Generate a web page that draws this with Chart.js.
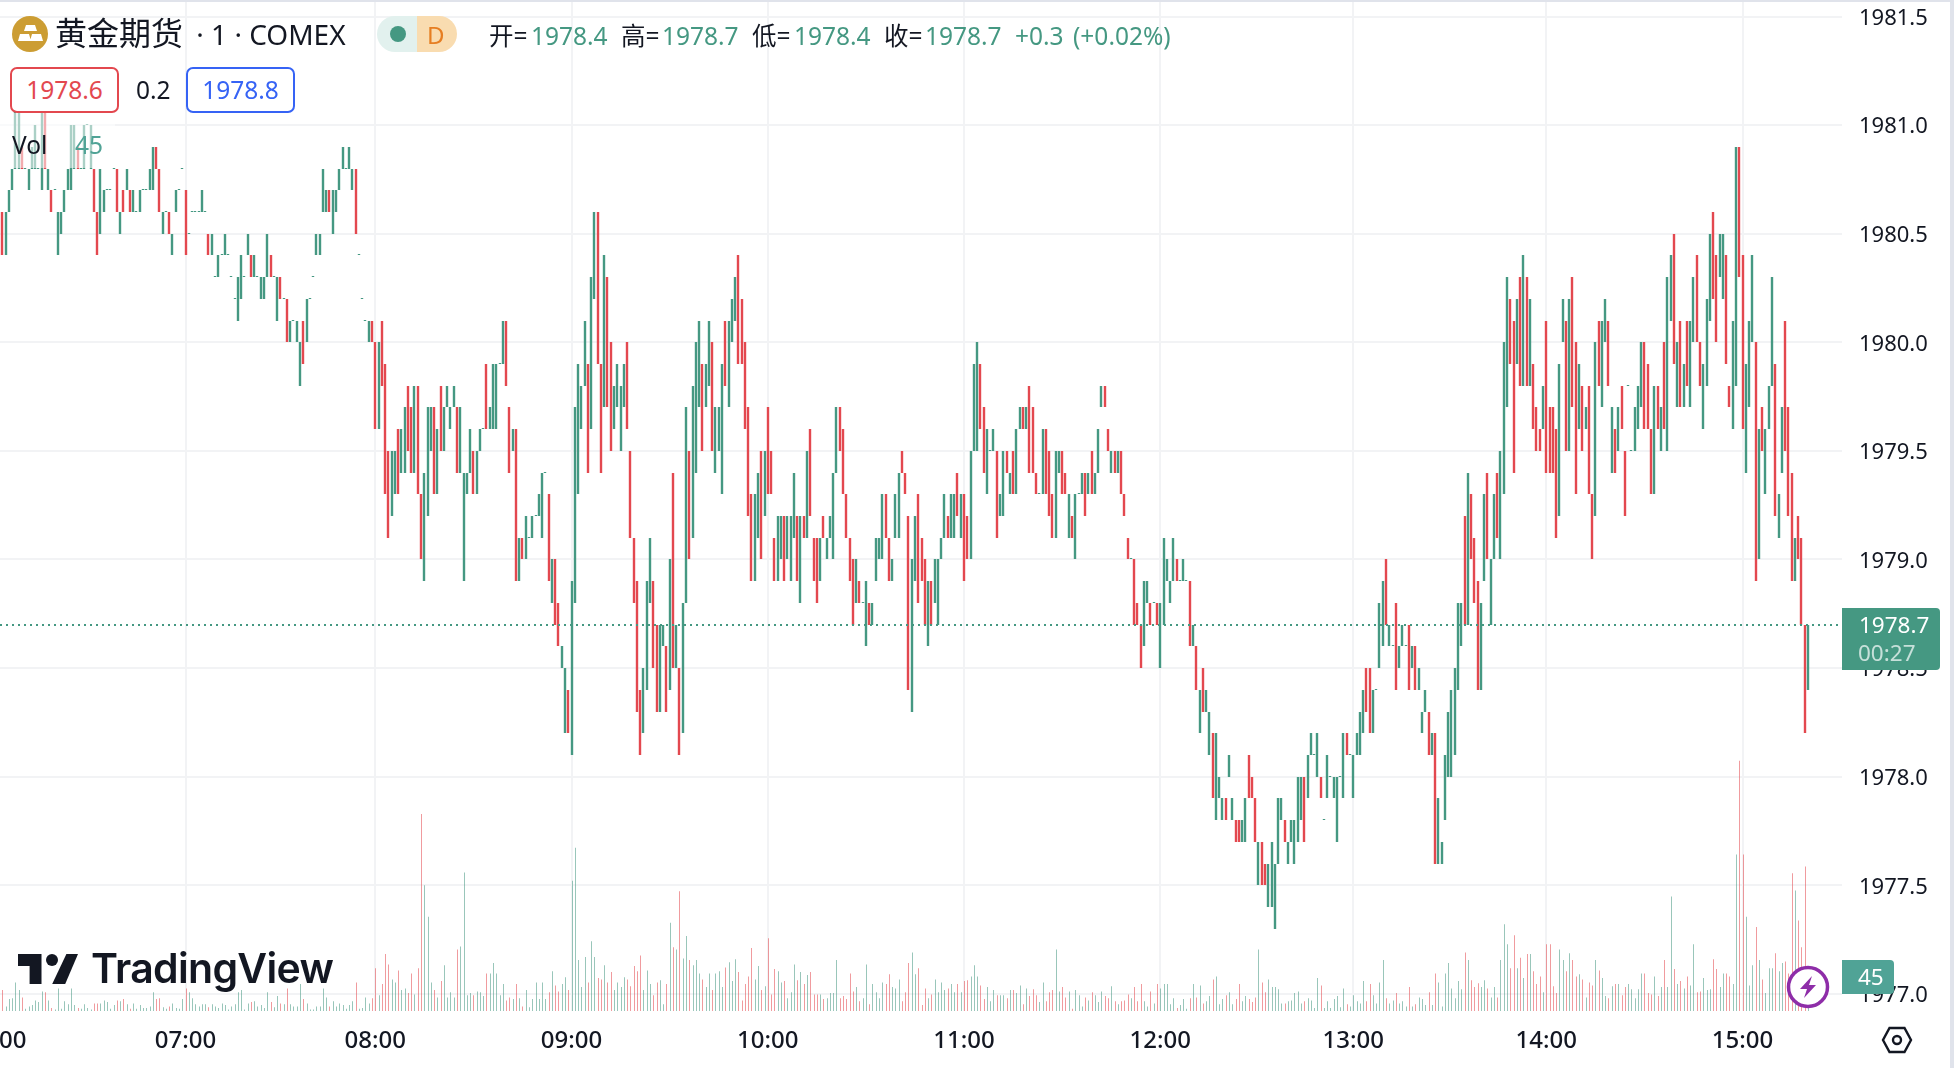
<!DOCTYPE html>
<html lang="zh">
<head>
  <meta charset="UTF-8" />
  <title>黄金期货 · 1 · COMEX</title>
  <script src="https://cdn.jsdelivr.net/npm/chart.js"></script>
  <style>
    html, body { margin: 0; padding: 0; background: #fff; overflow: hidden; }
    body { width: 1954px; height: 1068px; position: relative; font-family: "Noto Sans", "Noto Sans CJK SC", sans-serif; color: #131722; }
    canvas { position: absolute; left: 0; top: 0; }
    .abs { position: absolute; white-space: nowrap; line-height: 1; }
    .up { color: #459882; }
    .lg { font-size: 24.5px; top: 24px; }
    .box { position: absolute; top: 67px; height: 42px; width: 105px; border: 2px solid; border-radius: 7px; background: #fff; font-size: 24.5px; line-height: 42px; text-align: center; }
  </style>
</head>
<body>
  <canvas id="goldChart" width="1950" height="1068"></canvas>

  <div class="abs" style="left:0;top:0;width:1954px;height:2px;background:#e0e3eb"></div>
  <div class="abs" style="left:1950px;top:0;width:4px;height:1068px;background:#e0e3eb"></div>
  <div class="abs" style="left:0;top:113px;width:115px;height:55px;background:rgba(255,255,255,.55)"></div>

  <svg class="abs" style="left:12px;top:16px" width="37" height="37" viewBox="0 0 37 37">
    <circle cx="18" cy="18" r="18" fill="#cc9d33"/>
    <path d="M14 9h9l2 6H12zM8 18h9l2 7H6zM20 18h9l2 7H18z" fill="#fff"/>
  </svg>
  <div class="abs" style="left:55px;top:17px;font-size:32px">黄金期货<span style="font-size:28px;margin-left:6px"> · 1 · COMEX</span></div>

  <div class="abs" style="left:377px;top:16px;width:40px;height:36px;background:#e2f1ee;border-radius:18px 0 0 18px"></div>
  <div class="abs" style="left:417px;top:16px;width:40px;height:36px;background:#f9dcb0;border-radius:0 18px 18px 0"></div>
  <div class="abs" style="left:390px;top:26px;width:16px;height:16px;background:#459882;border-radius:50%"></div>
  <div class="abs" style="left:427px;top:23px;font-size:24px;color:#e67e22">D</div>

  <div class="abs lg" style="left:489px">开=</div><div class="abs lg up" style="left:531px">1978.4</div>
  <div class="abs lg" style="left:621px">高=</div><div class="abs lg up" style="left:662px">1978.7</div>
  <div class="abs lg" style="left:752px">低=</div><div class="abs lg up" style="left:794px">1978.4</div>
  <div class="abs lg" style="left:884px">收=</div><div class="abs lg up" style="left:925px">1978.7</div>
  <div class="abs lg up" style="left:1015px">+0.3</div><div class="abs lg up" style="left:1073px">(+0.02%)</div>

  <div class="box" style="left:10px;border-color:#e3484f;color:#e3484f">1978.6</div>
  <div class="abs" style="left:136px;top:78px;font-size:24.5px">0.2</div>
  <div class="box" style="left:186px;border-color:#3663f5;color:#3663f5">1978.8</div>

  <div class="abs" style="left:12px;top:133px;font-size:24.5px">Vol</div>
  <div class="abs" style="left:75px;top:133px;font-size:24.5px;color:#50a396">45</div>

  <svg class="abs" style="left:0;top:940px" width="340" height="60" viewBox="0 0 340 60">
    <path d="M18 14h23.5v30H29.6V26H18z" fill="#131722"/>
    <circle cx="52" cy="20" r="6" fill="#131722"/>
    <path d="M66.4 14H78L65.2 44H52.2z" fill="#131722"/>
  </svg>
  <div class="abs" style="left:91px;top:948px;font-family:Inter,sans-serif;font-weight:600;font-size:41px;letter-spacing:-.7px;color:#131722">TradingView</div>

  <div class="abs" style="left:1842px;top:608px;width:98px;height:62px;background:#459882;border-radius:0 4px 4px 0"></div>
  <div class="abs" style="left:1859px;top:614px;font-size:22.5px;color:#fff">1978.7</div>
  <div class="abs" style="left:1858px;top:642px;font-size:22.5px;color:rgba(255,255,255,.7)">00:27</div>
  <div class="abs" style="left:1842px;top:960px;width:52px;height:34px;background:#50a396;border-radius:0 4px 4px 0"></div>
  <div class="abs" style="left:1858px;top:966px;font-size:22.5px;color:#fff">45</div>

  <svg class="abs" style="left:1786px;top:965px" width="44" height="44" viewBox="0 0 44 44">
    <circle cx="22" cy="22" r="19.5" fill="#fff" stroke="#8e2da8" stroke-width="3.5"/>
    <path d="M26 11 14 24h7l-3 9 12-13h-7z" fill="#8e2da8"/>
  </svg>
  <svg class="abs" style="left:1880px;top:1025px" width="34" height="30" viewBox="0 0 34 30">
    <path d="M9.5 3h15L31 15l-6.500 12h-15L3 15z" fill="none" stroke="#131722" stroke-width="2.400"/>
    <circle cx="17" cy="15" r="4" fill="none" stroke="#131722" stroke-width="2.400"/>
  </svg>

  <script>
    // bar 2 is the first candle on screen, one entry per minute bar
    const firstBar = 2;

    const opens = [
      1980.6,1980.4,1980.6,1980.7,1980.8,1980.8,1980.9,1980.8,1980.7,1980.8,
      1980.8,1980.8,1980.7,1981.1,1980.7,1980.7,1980.7,1980.4,1980.5,1980.6,
      1980.7,1980.7,1980.8,1980.9,1980.8,1980.8,1981.0,1980.8,1980.8,1980.6,
      1980.5,1980.6,1980.7,1980.7,1980.8,1980.8,1980.5,1980.7,1980.7,1980.7,
      1980.6,1980.6,1980.6,1980.7,1980.7,1980.7,1980.7,1980.9,1980.8,1980.5,
      1980.6,1980.6,1980.4,1980.6,1980.7,1980.8,1980.7,1980.5,1980.6,1980.6,
      1980.6,1980.6,1980.6,1980.5,1980.4,1980.3,1980.3,1980.4,1980.4,1980.4,
      1980.3,1980.2,1980.1,1980.2,1980.3,1980.4,1980.4,1980.3,1980.3,1980.2,
      1980.2,1980.3,1980.4,1980.3,1980.1,1980.3,1980.2,1980.2,1980.0,1980.1,
      1980.0,1979.8,1980.1,1980.0,1980.2,1980.3,1980.4,1980.4,1980.6,1980.6,
      1980.7,1980.5,1980.6,1980.7,1980.8,1980.8,1980.8,1980.7,1980.8,1980.4,
      1980.2,1980.1,1980.0,1980.1,1980.0,1979.6,1980.1,1979.9,1979.5,1979.2,
      1979.3,1979.6,1979.4,1979.4,1979.8,1979.7,1979.4,1979.8,1979.3,1978.9,
      1979.2,1979.5,1979.7,1979.3,1979.8,1979.5,1979.7,1979.6,1979.7,1979.7,
      1979.4,1978.9,1979.3,1979.4,1979.5,1979.3,1979.5,1979.6,1979.9,1979.6,
      1979.6,1979.6,1979.9,1979.9,1980.1,1979.7,1979.5,1979.6,1978.9,1979.1,
      1979.0,1979.1,1979.1,1979.2,1979.2,1979.1,1979.4,1979.3,1978.8,1979.0,
      1978.8,1978.5,1978.2,1978.4,1978.1,1978.8,1979.3,1979.6,1979.8,1979.9,
      1979.6,1980.2,1980.6,1979.9,1979.7,1980.3,1980.0,1979.6,1979.7,1979.5,
      1979.7,1980.0,1979.5,1979.1,1978.9,1978.4,1978.2,1978.4,1978.8,1978.9,
      1978.7,1978.3,1978.6,1978.6,1978.4,1979.4,1978.5,1978.5,1978.2,1978.8,
      1979.5,1979.1,1979.4,1979.7,1979.9,1979.7,1979.8,1980.0,1979.4,1979.5,
      1979.3,1980.1,1979.7,1980.0,1980.1,1980.4,1980.2,1980.0,1979.7,1979.3,
      1978.9,1979.1,1979.5,1979.2,1979.7,1979.5,1979.1,1978.9,1979.0,1979.2,
      1979.0,1978.9,1979.1,1979.2,1978.8,1979.2,1979.1,1979.6,1979.1,1979.1,
      1978.9,1979.2,1979.0,1979.1,1979.0,1979.4,1979.7,1979.6,1979.3,1979.1,
      1979.0,1978.8,1978.9,1978.8,1978.6,1978.8,1978.7,1978.9,1979.0,1979.0,
      1979.3,1979.1,1978.9,1979.1,1979.1,1979.5,1979.4,1979.2,1978.3,1978.9,
      1979.3,1979.1,1979.0,1978.6,1978.9,1978.8,1978.7,1979.0,1979.1,1979.2,
      1979.1,1979.1,1979.4,1979.1,1979.3,1979.2,1979.0,1979.5,1979.5,1979.9,
      1979.7,1979.3,1979.5,1979.5,1979.5,1979.2,1979.2,1979.5,1979.3,1979.5,
      1979.3,1979.6,1979.7,1979.6,1979.8,1979.7,1979.4,1979.3,1979.3,1979.6,
      1979.5,1979.3,1979.1,1979.4,1979.5,1979.4,1979.1,1979.2,1979.0,1979.3,
      1979.3,1979.4,1979.3,1979.5,1979.3,1979.4,1979.7,1979.8,1979.6,1979.4,
      1979.5,1979.4,1979.5,1979.3,1979.1,1979.0,1979.0,1978.8,1978.7,1978.6,
      1978.8,1978.8,1978.8,1978.8,1978.5,1978.7,1978.9,1978.8,1978.9,1979.0,
      1978.9,1978.9,1978.9,1978.9,1978.6,1978.6,1978.2,1978.5,1978.3,1978.1,
      1978.2,1977.8,1977.9,1977.8,1977.9,1978.0,1977.8,1977.8,1977.8,1977.7,
      1977.7,1978.1,1978.0,1977.9,1977.5,1977.7,1977.6,1977.4,1977.4,1977.3,
      1977.6,1977.8,1977.8,1977.6,1977.7,1977.6,1977.7,1977.8,1978.0,1977.9,
      1978.1,1978.1,1978.0,1978.0,1977.8,1977.9,1978.0,1977.9,1977.7,1978.0,
      1977.9,1978.2,1978.1,1977.9,1978.1,1978.1,1978.2,1978.5,1978.5,1978.2,
      1978.4,1978.5,1978.6,1979.0,1978.6,1978.6,1978.8,1978.5,1978.6,1978.6,
      1978.7,1978.5,1978.6,1978.4,1978.2,1978.3,1978.3,1978.1,1978.2,1977.6,
      1977.6,1977.8,1978.0,1978.0,1978.1,1978.4,1978.6,1979.2,1978.7,1979.3,
      1979.1,1978.9,1978.4,1978.9,1979.4,1978.7,1979.0,1979.4,1979.0,1979.3,
      1979.7,1980.2,1980.1,1979.9,1980.3,1979.8,1980.3,1979.8,1979.9,1979.7,
      1979.6,1979.6,1980.1,1979.7,1979.7,1979.6,1979.2,1980.0,1980.1,1979.5,
      1980.3,1980.0,1979.6,1979.8,1979.6,1979.8,1979.3,1979.2,1980.1,1979.7,
      1980.0,1980.1,1979.4,1979.6,1979.5,1979.8,1979.5,1979.8,1979.5,1979.5,
      1979.6,1979.7,1980.0,1979.9,1979.6,1979.3,1979.8,1979.5,1980.0,1979.5,
      1980.1,1980.5,1979.7,1980.1,1979.7,1980.1,1979.7,1980.0,1980.4,1980.0,
      1979.6,1979.8,1980.1,1980.6,1980.4,1980.3,1980.2,1980.4,1979.8,1979.6,
      1979.8,1980.9,1980.4,1979.4,1979.7,1980.0,1980.0,1979.0,1979.7,1979.3,
      1979.6,1979.8,1979.9,1979.1,1979.4,1980.1,1979.7,1979.4,1978.9,1979.2,
      1979.1,1978.7,1978.4
    ];
    const closes = [
      1980.4,1980.6,1980.7,1980.8,1981.1,1981.1,1980.8,1980.8,1980.8,1980.9,
      1981.0,1980.8,1981.1,1980.8,1980.8,1980.6,1980.7,1980.6,1980.6,1980.7,
      1980.8,1981.0,1981.0,1980.8,1980.8,1981.0,1981.0,1981.0,1980.6,1980.4,
      1980.8,1980.7,1980.7,1980.7,1980.8,1980.6,1980.6,1980.6,1980.8,1980.6,
      1980.7,1980.6,1980.7,1980.7,1980.7,1980.8,1980.9,1980.8,1980.6,1980.6,
      1980.6,1980.5,1980.5,1980.7,1980.7,1980.8,1980.4,1980.5,1980.6,1980.6,
      1980.6,1980.7,1980.6,1980.4,1980.5,1980.3,1980.4,1980.4,1980.5,1980.4,
      1980.3,1980.2,1980.3,1980.4,1980.3,1980.5,1980.3,1980.4,1980.3,1980.3,
      1980.3,1980.5,1980.3,1980.3,1980.3,1980.2,1980.2,1980.0,1980.1,1980.1,
      1980.1,1980.0,1979.9,1980.2,1980.2,1980.3,1980.5,1980.5,1980.8,1980.7,
      1980.6,1980.7,1980.7,1980.8,1980.9,1980.8,1980.9,1980.8,1980.5,1980.4,
      1980.2,1980.1,1980.1,1980.0,1979.6,1980.0,1979.8,1979.3,1979.1,1979.5,
      1979.5,1979.3,1979.6,1979.7,1979.5,1979.4,1979.8,1979.3,1979.0,1979.4,
      1979.7,1979.7,1979.3,1979.6,1979.5,1979.7,1979.8,1979.7,1979.8,1979.4,
      1979.7,1979.4,1979.4,1979.6,1979.3,1979.5,1979.6,1979.6,1979.6,1979.7,
      1979.9,1979.9,1979.9,1980.1,1979.8,1979.4,1979.6,1978.9,1979.1,1979.0,
      1979.2,1979.1,1979.2,1979.2,1979.3,1979.4,1979.4,1978.9,1979.0,1978.7,
      1978.6,1978.6,1978.5,1978.2,1978.9,1979.7,1979.9,1979.8,1980.1,1979.4,
      1980.3,1980.6,1979.9,1979.4,1980.4,1979.7,1979.5,1979.8,1979.9,1979.8,
      1979.9,1979.6,1979.1,1978.8,1978.3,1978.1,1978.5,1978.9,1979.1,1978.5,
      1978.3,1978.7,1978.7,1978.3,1979.0,1978.5,1978.7,1978.1,1978.8,1979.7,
      1979.0,1979.8,1980.0,1980.1,1979.5,1979.9,1980.1,1979.5,1979.7,1979.7,
      1979.9,1979.8,1980.1,1980.2,1980.3,1979.9,1979.9,1979.6,1979.2,1978.9,
      1979.3,1979.4,1979.0,1979.5,1979.3,1979.3,1978.9,1979.2,1979.2,1978.9,
      1979.2,1979.2,1979.4,1978.9,1979.2,1979.1,1979.5,1979.2,1978.9,1978.8,
      1979.1,1979.1,1979.1,1979.2,1979.4,1979.7,1979.5,1979.3,1979.1,1978.9,
      1978.7,1979.0,1978.8,1978.8,1978.9,1978.7,1978.8,1979.1,1979.1,1979.3,
      1979.1,1978.9,1979.0,1979.3,1979.4,1979.4,1979.3,1978.4,1979.0,1979.2,
      1978.8,1978.9,1978.7,1978.9,1978.7,1979.0,1979.0,1979.1,1979.3,1979.1,
      1979.3,1979.3,1979.2,1979.3,1978.9,1979.0,1979.5,1979.9,1980.0,1979.6,
      1979.4,1979.6,1979.5,1979.6,1979.1,1979.3,1979.5,1979.4,1979.4,1979.3,
      1979.6,1979.7,1979.6,1979.7,1979.4,1979.4,1979.3,1979.3,1979.6,1979.3,
      1979.2,1979.1,1979.5,1979.5,1979.3,1979.3,1979.3,1979.1,1979.3,1979.3,
      1979.4,1979.2,1979.4,1979.3,1979.4,1979.6,1979.8,1979.7,1979.5,1979.5,
      1979.4,1979.5,1979.3,1979.2,1979.0,1979.0,1978.7,1978.7,1978.5,1978.9,
      1978.9,1978.7,1978.8,1978.7,1978.8,1979.1,1979.0,1978.9,1979.1,1978.9,
      1978.9,1979.0,1978.9,1978.6,1978.7,1978.4,1978.4,1978.3,1978.4,1978.3,
      1977.9,1978.2,1978.0,1977.9,1977.8,1978.1,1977.9,1977.7,1977.7,1977.8,
      1977.9,1977.9,1977.9,1977.7,1977.7,1977.5,1977.5,1977.6,1977.7,1977.6,
      1977.9,1977.9,1977.7,1977.7,1977.8,1977.8,1978.0,1978.0,1977.7,1978.1,
      1978.2,1978.1,1978.2,1977.9,1977.8,1978.1,1978.0,1978.0,1978.0,1978.0,
      1978.2,1978.1,1978.1,1978.1,1978.2,1978.3,1978.4,1978.3,1978.2,1978.4,
      1978.4,1978.8,1978.9,1978.7,1978.7,1978.6,1978.4,1978.6,1978.7,1978.6,
      1978.4,1978.6,1978.4,1978.5,1978.3,1978.4,1978.1,1978.2,1977.6,1977.9,
      1977.7,1978.1,1978.3,1978.4,1978.5,1978.8,1978.8,1978.7,1979.4,1979.0,
      1978.8,1978.4,1978.8,1979.3,1979.0,1979.0,1979.3,1979.1,1979.5,1980.0,
      1980.3,1979.9,1979.4,1980.2,1979.8,1980.4,1979.8,1980.2,1979.6,1979.5,
      1979.5,1979.8,1979.4,1979.4,1979.4,1979.1,1979.9,1980.2,1979.5,1980.2,
      1979.7,1979.3,1979.9,1979.5,1979.7,1979.3,1979.0,1980.0,1979.8,1980.1,
      1980.2,1979.8,1979.7,1979.4,1979.7,1979.6,1979.2,1979.8,1979.5,1979.7,
      1979.8,1980.0,1979.6,1979.6,1979.3,1979.8,1979.6,1979.7,1979.6,1980.3,
      1980.4,1979.9,1980.0,1979.7,1979.9,1979.8,1980.1,1980.3,1980.0,1979.8,
      1979.9,1980.2,1980.5,1980.2,1980.0,1980.5,1980.5,1979.9,1979.7,1980.1,
      1980.9,1980.3,1979.6,1979.9,1980.1,1980.4,1978.9,1979.6,1979.5,1979.6,
      1979.8,1980.3,1979.2,1979.3,1979.7,1979.5,1979.2,1978.9,1979.1,1979.0,
      1978.7,1978.2,1978.7
    ];
    const volumes = [
      28,6,16,17,38,28,18,3,6,8,
      14,12,26,25,14,4,2,30,3,13,
      9,30,8,4,3,9,4,2,10,10,
      10,14,12,3,8,14,13,16,9,3,
      10,3,8,4,4,6,25,16,17,5,
      3,6,10,4,3,16,30,25,17,9,
      6,9,9,5,9,6,4,10,8,2,
      6,9,25,28,2,10,12,13,6,8,
      4,25,12,5,20,10,9,30,9,6,
      6,36,16,10,2,2,6,6,30,18,
      6,13,6,10,8,3,8,13,38,3,
      4,18,10,17,57,21,36,76,62,42,
      38,54,28,30,24,50,22,57,263,168,
      126,38,28,18,40,61,18,25,18,82,
      86,185,21,24,21,26,25,20,50,50,
      64,50,21,36,14,18,16,36,17,6,
      28,5,16,38,16,38,16,25,53,34,
      26,36,45,28,174,218,68,32,72,38,
      93,72,44,42,61,38,52,28,38,32,
      45,42,33,60,53,74,28,54,36,21,
      38,41,9,36,118,85,82,160,70,100,
      68,61,68,50,42,32,50,28,50,53,
      32,58,65,40,69,52,14,36,46,84,
      42,60,28,33,97,22,56,53,38,40,
      17,25,62,41,52,36,48,52,22,22,
      22,16,17,24,24,68,17,20,16,50,
      26,32,13,17,62,9,36,25,17,38,
      36,49,32,30,42,13,25,64,78,49,
      57,8,30,17,22,42,25,38,28,30,
      36,25,36,25,40,41,46,61,46,34,
      16,32,13,28,21,21,21,17,28,28,
      24,34,9,30,20,29,21,12,38,13,
      25,28,82,26,32,18,26,3,28,21,
      6,18,14,25,21,12,26,20,17,33,
      13,9,13,14,22,17,32,13,36,13,
      6,26,10,36,30,36,36,9,17,4,
      8,16,3,17,36,18,34,10,13,20,
      42,46,9,16,21,25,9,16,36,13,
      20,16,12,18,82,38,25,42,32,32,
      29,10,10,13,14,24,26,10,13,17,
      14,4,44,34,4,13,4,16,20,5,
      30,9,6,21,13,10,40,13,36,21,
      10,38,68,17,10,14,24,10,13,6,
      32,6,9,18,16,8,25,8,50,38,
      6,50,64,30,17,40,29,78,68,41,
      32,37,32,41,30,18,32,18,68,116,
      89,57,101,57,71,44,76,76,53,36,
      46,25,89,89,33,24,82,68,53,77,
      68,46,49,42,18,38,34,68,54,44,
      20,17,33,36,36,21,32,36,29,17,
      29,50,50,24,22,46,20,32,68,32,
      153,56,36,40,30,46,34,89,25,26,
      44,28,29,69,56,32,50,50,46,36,
      209,334,209,126,34,61,112,68,42,24,
      57,57,77,53,64,66,50,184,161,121,
      85,193,45
    ];

    const hourBars = [0, 58, 116, 176, 236, 296, 356, 415, 474, 534];
    const hourLabels = ['06:00', '07:00', '08:00', '09:00', '10:00', '11:00', '12:00', '13:00', '14:00', '15:00'];
    const priceTicks = [1977, 1977.5, 1978, 1978.5, 1979, 1979.5, 1980, 1980.5, 1981, 1981.5];
    const lastPrice = 1978.7;

    const upColor = '#459882';
    const downColor = '#e3484f';
    const upVol = 'rgba(69,152,130,.55)';
    const downVol = 'rgba(227,72,79,.55)';

    // round the bars onto whole pixels, otherwise the candles come out blurred
    const crispBars = {
      id: 'crispBars',
      beforeDatasetsDraw(chart) {
        chart.getDatasetMeta(0).data.forEach(el => {
          el.x = Math.round(el.x);
          el.y = Math.round(el.y);
          el.base = Math.round(el.base);
          if (el.y === el.base) el.base = el.y + 1;
        });
        chart.getDatasetMeta(1).data.forEach(el => {
          el.x = Math.round(el.x) + 0.5;
        });
      }
    };

    const lastPriceLine = {
      id: 'lastPriceLine',
      afterDatasetsDraw(chart) {
        const { ctx, chartArea } = chart;
        const y = Math.round(chart.scales.y.getPixelForValue(lastPrice));
        ctx.save();
        ctx.strokeStyle = upColor;
        ctx.lineWidth = 2;
        ctx.setLineDash([2, 4]);
        ctx.beginPath();
        ctx.moveTo(chartArea.left, y);
        ctx.lineTo(chartArea.right, y);
        ctx.stroke();
        ctx.restore();
      }
    };

    const axisFont = { family: '"Noto Sans", sans-serif', size: 22 };

    new Chart(document.getElementById('goldChart'), {
      type: 'bar',
      data: {
        datasets: [
          {
            yAxisID: 'y',
            order: 1,
            data: opens.map((o, i) => ({ x: firstBar + i, y: [o, closes[i]] })),
            backgroundColor: opens.map((o, i) => closes[i] >= o ? upColor : downColor),
            barThickness: 2.4,
            minBarLength: 1,
            inflateAmount: 0,
            grouped: false
          },
          {
            yAxisID: 'y2',
            order: 2,
            data: volumes.map((v, i) => ({ x: firstBar + i, y: v })),
            backgroundColor: volumes.map((v, i) => closes[i] >= opens[i] ? upVol : downVol),
            barThickness: 1,
            inflateAmount: 0,
            grouped: false
          }
        ]
      },
      options: {
        responsive: false,
        animation: false,
        layout: { padding: 0 },
        plugins: { legend: { display: false }, tooltip: { enabled: false } },
        scales: {
          x: {
            type: 'linear',
            min: 1.284,
            max: 564.4,
            offset: false,
            border: { display: false },
            grid: { offset: false, color: '#f2f3f5', lineWidth: 2, drawTicks: false },
            ticks: {
              color: '#131722',
              font: { ...axisFont, size: 24, weight: '500' },
              padding: 16,
              maxRotation: 0,
              autoSkip: false,
              callback: (value, index) => hourLabels[index]
            },
            afterBuildTicks: axis => { axis.ticks = hourBars.map(v => ({ value: v })); },
            afterFit: axis => { axis.height = 57; axis.paddingLeft = 0; axis.paddingRight = 0; }
          },
          y: {
            position: 'right',
            min: 1976.921,
            max: 1981.576,
            border: { display: false },
            grid: { color: '#f2f3f5', lineWidth: 2, drawTicks: false },
            ticks: {
              color: '#131722',
              font: axisFont,
              padding: 17,
              labelOffset: 2,
              callback: value => value.toFixed(1)
            },
            afterBuildTicks: axis => { axis.ticks = priceTicks.map(v => ({ value: v })); },
            afterFit: axis => { axis.width = 108; axis.paddingTop = 0; axis.paddingBottom = 0; }
          },
          y2: {
            display: false,
            min: 0,
            max: 1350
          }
        }
      },
      plugins: [crispBars, lastPriceLine]
    });
  </script>
</body>
</html>
